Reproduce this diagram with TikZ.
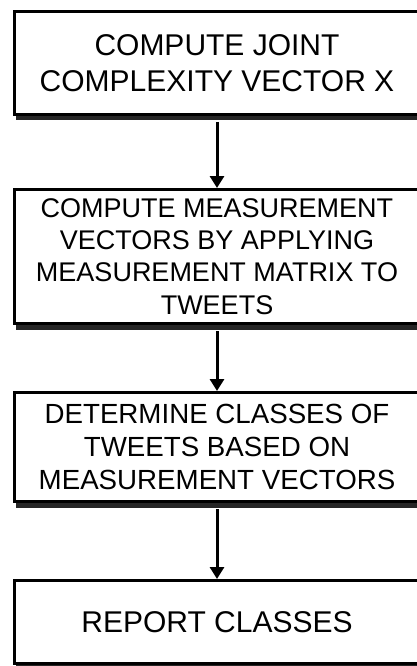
\documentclass[tikz,border=0pt]{standalone}
\usepackage{fontspec}
\setmainfont{Liberation Sans}
\usetikzlibrary{arrows.meta}
\usetikzlibrary{shadows}

\begin{document}
\begin{tikzpicture}[
    x=1pt, y=-1pt,
    box style/.style={draw=black, line width=3pt, fill=white, rectangle,
        minimum width=406pt, inner sep=0pt, align=center,
        drop shadow={shadow xshift=2pt, shadow yshift=-6pt, fill=black!85, opacity=1}},
    arrow style/.style={line width=3pt, -{Triangle[width=14pt, length=12pt]}}
]
    \useasboundingbox (0,0) rectangle (417,666);

    % Steps of the flow
    \node[box style, minimum height=103pt, font=\fontsize{30}{36}\selectfont] (joint) at (217, 63)
        {COMPUTE JOINT\\COMPLEXITY VECTOR X};
    \node[box style, minimum height=134pt, font=\fontsize{27}{32.4}\selectfont] (measure) at (217, 256.5)
        {COMPUTE MEASUREMENT\\VECTORS BY APPLYING\\MEASUREMENT MATRIX TO\\TWEETS};
    \node[box style, minimum height=109pt, font=\fontsize{27.7}{33}\selectfont] (classes) at (217, 447)
        {DETERMINE CLASSES OF\\TWEETS BASED ON\\MEASUREMENT VECTORS};
    \node[box style, minimum height=83pt, font=\fontsize{30}{36}\selectfont] (report) at (217, 622)
        {REPORT CLASSES};

    % Arrows between steps
    \draw[arrow style] ([yshift=-6pt]joint.south) -- (measure.north);
    \draw[arrow style] ([yshift=-6pt]measure.south) -- (classes.north);
    \draw[arrow style] ([yshift=-6pt]classes.south) -- (report.north);

\end{tikzpicture}
\end{document}
